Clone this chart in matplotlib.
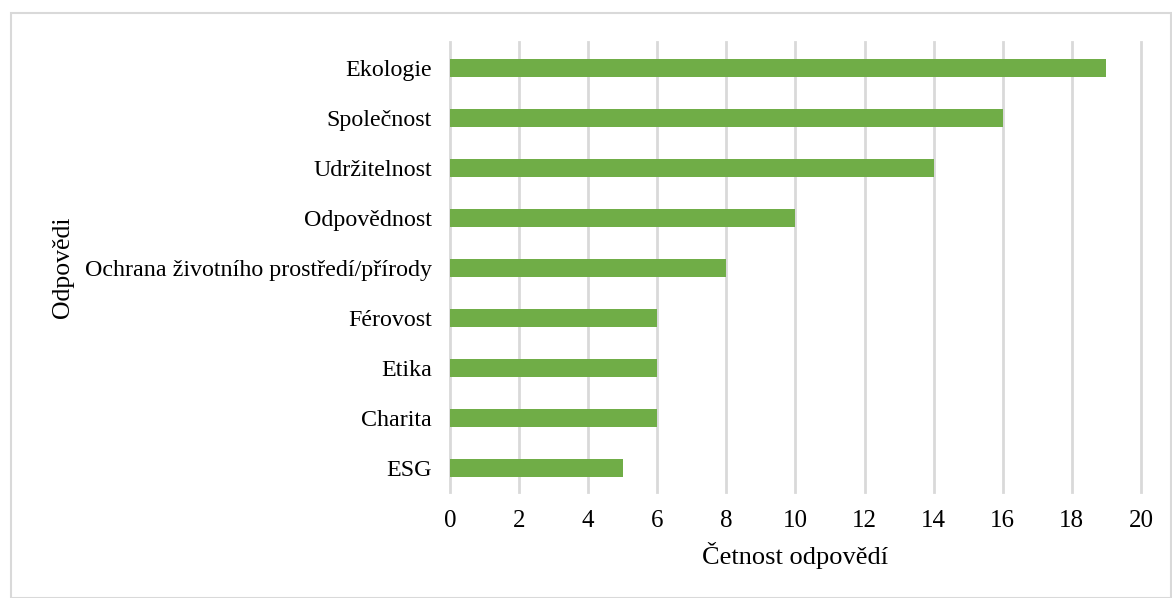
import matplotlib.pyplot as plt
from matplotlib.patches import Rectangle

plt.rcParams['font.family'] = ['Liberation Serif', 'DejaVu Serif']

odpovedi = ["ESG", "Charita", "Etika", "Férovost",
            "Ochrana životního prostředí/přírody", "Odpovědnost",
            "Udržitelnost", "Společnost", "Ekologie"]
cetnost = [5, 6, 6, 6, 8, 10, 14, 16, 19]
x_ticks = [0, 2, 4, 6, 8, 10, 12, 14, 16, 18, 20]

fig = plt.figure(figsize=(11.72, 5.98), dpi=100)
ax = fig.add_axes([0.384, 0.177, 0.5895, 0.753])

ax.barh(range(len(odpovedi)), cetnost, height=0.36, color="#70AD47", zorder=3)

ax.set_xlim(0, 20)
ax.set_ylim(-0.48, 8.52)
ax.set_xticks(x_ticks)
ax.set_yticks(range(len(odpovedi)))
ax.set_yticklabels(odpovedi)
ax.grid(axis="x", color="#d9d9d9", linewidth=2, zorder=0)
for gl in ax.get_xgridlines():
    gl.set_clip_on(False)
ax.tick_params(length=0, labelsize=17.3, colors="black", pad=13)
ax.tick_params(axis="x", labelsize=18, pad=13)
for s in ax.spines.values():
    s.set_visible(False)

ax.set_xlabel("Četnost odpovědí", fontsize=19, color="black", labelpad=7)
ax.set_ylabel("Odpovědi", fontsize=18.5, color="black", labelpad=8)

fig.patches.append(Rectangle((0.009, 0.0), 0.99, 0.978, transform=fig.transFigure,
                             fill=False, edgecolor="#d9d9d9", linewidth=1.5))

fig.savefig("out.png", dpi=100)
